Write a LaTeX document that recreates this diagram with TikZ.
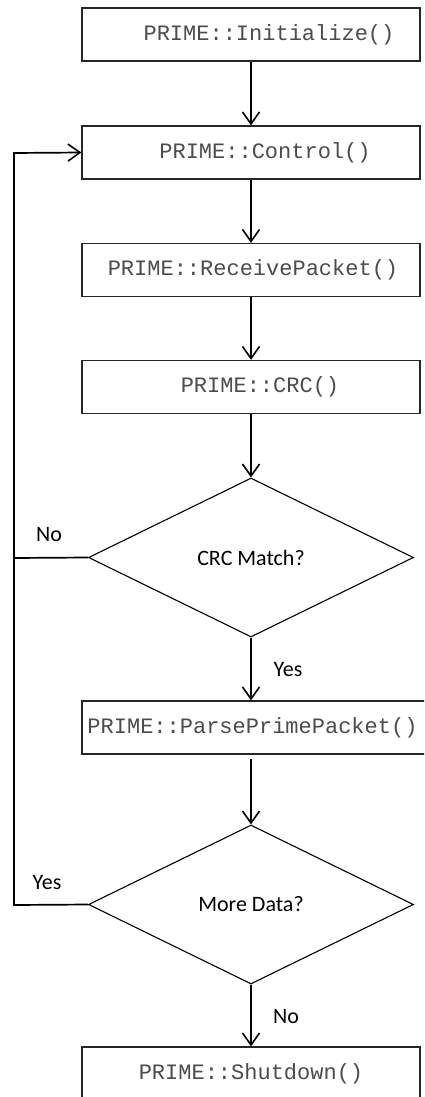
\documentclass[tikz,border=0pt]{standalone}
\usepackage{fontspec}
\setmainfont{Carlito}
\newfontfamily\codefont{Liberation Mono}
\usetikzlibrary{shapes.geometric,arrows.meta}
\begin{document}
\begin{tikzpicture}[x=1pt,y=-1pt,
  box/.style={draw=black!85, line width=1.3pt, minimum width=338pt, minimum height=53pt, inner sep=0pt,
    font=\codefont\fontsize{22}{24}\selectfont, text=black!70},
  decision/.style={draw=black, line width=1.1pt, diamond, minimum width=325pt, minimum height=159pt, inner sep=0pt,
    font=\fontsize{22}{24}\selectfont},
  flow/.style={line width=1.7pt, -{Straight Barb[length=12pt,width=17pt,line width=1.6pt]}},
  loopline/.style={line width=1.7pt},
  lbl/.style={font=\fontsize{22}{24}\selectfont, inner sep=0pt}]
\clip (0,0) rectangle (424,1097);
\fill[white] (0,0) rectangle (424,1097);
\node[box] (init) at (251,34.5) {\hspace*{36pt}PRIME::Initialize()};
\node[box] (ctrl) at (251,152.5) {\hspace*{28pt}PRIME::Control()};
\node[box] (recv) at (251,270) {\hspace*{4pt}PRIME::ReceivePacket()};
\node[box] (crc) at (251,387) {\hspace*{18pt}PRIME::CRC()};
\node[decision] (match) at (251,557.5) {CRC Match?};
\node[box, minimum width=350pt] (parse) at (257,727.5) {\hspace*{-9pt}PRIME::ParsePrimePacket()};
\node[decision] (more) at (251,904.5) {More Data?};
\node[box] (shut) at (251,1073.5) {PRIME::Shutdown()};
\coordinate (loopA) at (14,153);
\coordinate (loopB) at (14,558);
\coordinate (loopC) at (14,905);
\draw[flow] (init) -- (ctrl);
\draw[flow] (ctrl) -- (recv);
\draw[flow] (recv) -- (crc);
\draw[flow] (crc) -- (match);
\draw[flow] (match) -- (parse.north -| match.south);
\draw[flow] ([yshift=-4pt]parse.south -| match.south) -- (more);
\draw[flow] (more) -- (shut);
\draw[loopline] (match.west) -- (loopB);
\draw[flow] (more.west) -- (loopC) -- (loopA) -- (ctrl.west);
\node[lbl] (no1) at (49,535) {No};
\node[lbl] (yes1) at (288,670) {Yes};
\node[lbl] (yes2) at (47,883) {Yes};
\node[lbl] (no2) at (286,1017) {No};
\end{tikzpicture}
\end{document}
